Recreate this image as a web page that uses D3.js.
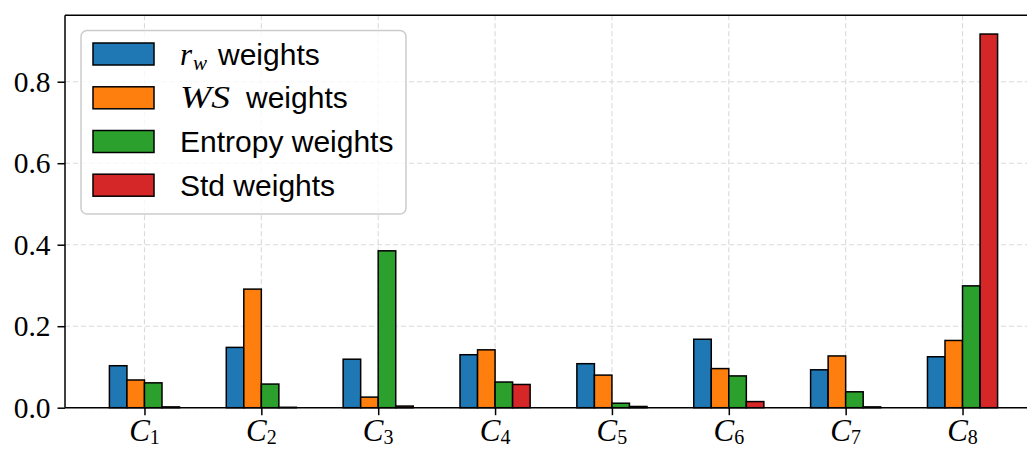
<!DOCTYPE html>
<html>
<head>
<meta charset="utf-8">
<script src="https://cdn.jsdelivr.net/npm/d3@7"></script>
<style>
  html, body { margin: 0; padding: 0; background: #fff; }
  svg { display: block; }
</style>
</head>
<body>
<svg id="chart" width="1027" height="449"></svg>
<script>
// ---- data ----
const categories = ["1", "2", "3", "4", "5", "6", "7", "8"];  // subscripts of C
const rwWeights      = [0.103, 0.148, 0.119, 0.130, 0.108, 0.168, 0.093, 0.125];
const wsWeights      = [0.068, 0.291, 0.026, 0.142, 0.080, 0.096, 0.127, 0.165];
const entropyWeights = [0.061, 0.058, 0.385, 0.063, 0.011, 0.078, 0.039, 0.299];
const stdWeights     = [0.002, 0.001, 0.004, 0.057, 0.003, 0.015, 0.002, 0.917];
const yTicks = [0.0, 0.2, 0.4, 0.6, 0.8];
const seriesNames = ["rw", "WS", "Entropy", "Std"];

// ---- styling / layout ----
const colors = ["#1f77b4", "#ff7f0e", "#2ca02c", "#d62728"];
const series = [rwWeights, wsWeights, entropyWeights, stdWeights];
const barW = 0.15;
const pLeft = 65, pRight = 1042, pTop = 15.3, pBottom = 407.7;
const svg = d3.select("#chart");

const x = d3.scaleLinear().domain([-0.68, 7.68]).range([pLeft, pRight]);
const y = d3.scaleLinear().domain([0, 0.963]).range([pBottom, pTop]);

// grid
const grid = svg.append("g").attr("stroke", "#d9d9d9").attr("stroke-width", 1.1)
  .attr("stroke-dasharray", "5,3");
grid.selectAll("line.gy").data(yTicks).join("line")
  .attr("x1", pLeft).attr("x2", pRight)
  .attr("y1", d => y(d)).attr("y2", d => y(d));
grid.selectAll("line.gx").data(categories).join("line")
  .attr("x1", (d, i) => x(i)).attr("x2", (d, i) => x(i))
  .attr("y1", pTop).attr("y2", pBottom);

// bars
series.forEach((vals, s) => {
  svg.append("g").selectAll("rect").data(vals).join("rect")
    .attr("x", (d, i) => x(i + (s - 2) * barW))
    .attr("width", x(barW) - x(0))
    .attr("y", d => y(d))
    .attr("height", d => y(0) - y(d))
    .attr("fill", colors[s])
    .attr("stroke", "#000")
    .attr("stroke-width", 1.5);
});

// spines
const sp = svg.append("g").attr("stroke", "#000").attr("stroke-width", 1.5).attr("fill", "none");
sp.append("line").attr("x1", pLeft).attr("x2", pLeft).attr("y1", pTop).attr("y2", pBottom);
sp.append("line").attr("x1", pLeft).attr("x2", pRight).attr("y1", pTop).attr("y2", pTop);
sp.append("line").attr("x1", pLeft).attr("x2", pRight).attr("y1", pBottom).attr("y2", pBottom);

// y axis
const yAxis = d3.axisLeft(y).tickValues(yTicks).tickFormat(d3.format(".1f"))
  .tickSize(7.5).tickPadding(7);
const gy = svg.append("g").attr("transform", `translate(${pLeft},0)`).call(yAxis);
gy.select(".domain").remove();
gy.selectAll(".tick line").attr("stroke-width", 1.5);
gy.selectAll(".tick text").attr("font-family", "'Liberation Serif', 'DejaVu Serif', serif")
  .attr("font-size", 29.5).attr("fill", "#000");

// x axis
const xAxis = d3.axisBottom(x).tickValues(d3.range(categories.length)).tickFormat("")
  .tickSize(7.5);
const gx = svg.append("g").attr("transform", `translate(0,${pBottom})`).call(xAxis);
gx.select(".domain").remove();
gx.selectAll(".tick line").attr("stroke-width", 1.5);
const xl = svg.append("g");
categories.forEach((c, i) => {
  const t = xl.append("text")
    .attr("x", x(i)).attr("y", 441)
    .attr("text-anchor", "middle")
    .attr("font-family", "'Liberation Serif', 'DejaVu Serif', serif")
    .attr("font-size", 31).attr("fill", "#000");
  t.append("tspan").attr("font-style", "italic").text("C");
  t.append("tspan").attr("font-size", 20).attr("dy", 3).text(c);
});

// legend
const lg = svg.append("g");
lg.append("rect").attr("x", 81).attr("y", 30.5).attr("width", 325).attr("height", 183.5)
  .attr("rx", 6).attr("ry", 6)
  .attr("fill", "#fff").attr("fill-opacity", 0.8)
  .attr("stroke", "#cccccc").attr("stroke-width", 1.5);
const rowY = [54, 97.8, 141.5, 185.2];
const serif = "'Liberation Serif', serif";
const sans = "'Liberation Sans', Arial, sans-serif";
seriesNames.forEach((nm, i) => {
  lg.append("rect").attr("x", 93).attr("y", rowY[i] - 11).attr("width", 61).attr("height", 22)
    .attr("fill", colors[i]).attr("stroke", "#000").attr("stroke-width", 1.5);
  const by = rowY[i] + 10.5;
  if (nm === "rw") {
    lg.append("text").attr("x", 180).attr("y", by).attr("font-family", serif)
      .attr("font-style", "italic").attr("font-size", 31).text("r");
    lg.append("text").attr("x", 193).attr("y", by + 5).attr("font-family", serif)
      .attr("font-style", "italic").attr("font-size", 21).text("w");
    lg.append("text").attr("x", 218).attr("y", by).attr("font-family", sans)
      .attr("font-size", 30).text("weights");
  } else if (nm === "WS") {
    lg.append("text").attr("x", 180).attr("y", by).attr("font-family", serif)
      .attr("font-style", "italic").attr("font-size", 31)
      .attr("textLength", 50).attr("lengthAdjust", "spacingAndGlyphs").text("WS");
    lg.append("text").attr("x", 246).attr("y", by).attr("font-family", sans)
      .attr("font-size", 30).text("weights");
  } else {
    lg.append("text").attr("x", 180).attr("y", by).attr("font-family", sans)
      .attr("font-size", 30).text(nm + " weights");
  }
});
</script>
</body>
</html>
